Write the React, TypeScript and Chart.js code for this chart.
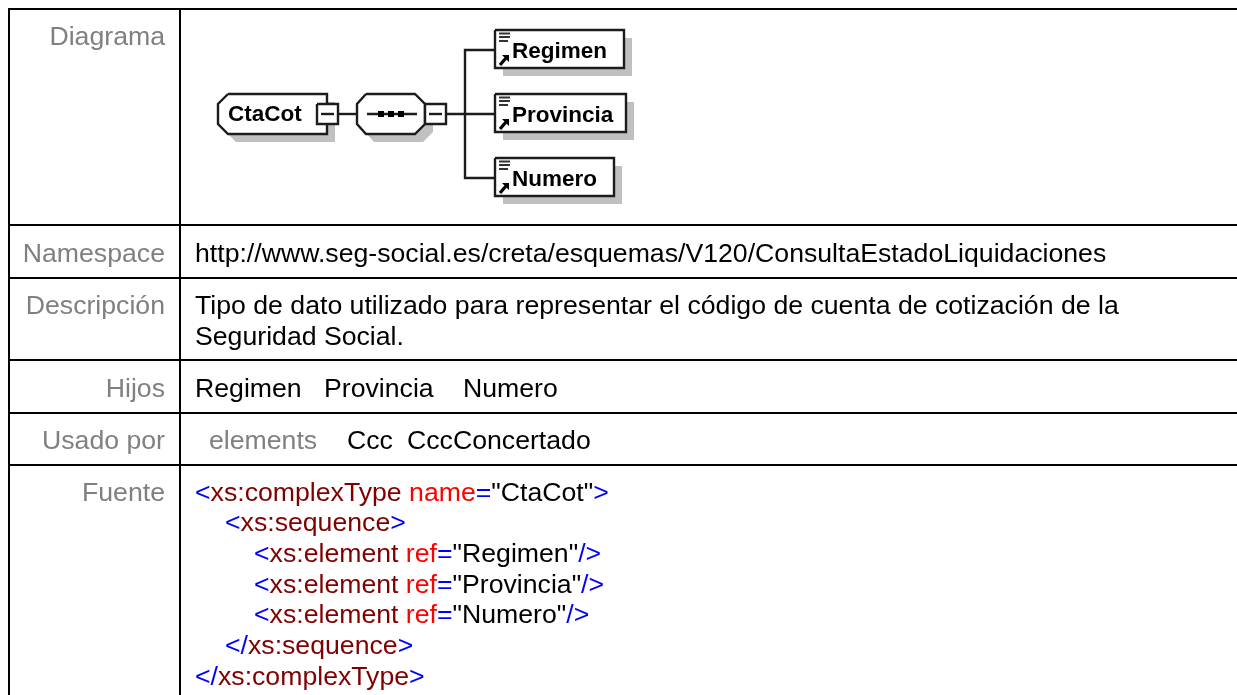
import React, { useEffect, useRef } from "react";
import { Chart, registerables } from "chart.js";

Chart.register(...registerables);

// ---- content -------------------------------------------------------------
const rowLabels = ["Diagrama", "Namespace", "Descripción", "Hijos", "Usado por", "Fuente"];
const namespaceText = "http://www.seg-social.es/creta/esquemas/V120/ConsultaEstadoLiquidaciones";
const descriptionLines = [
  "Tipo de dato utilizado para representar el código de cuenta de cotización de la",
  "Seguridad Social.",
];
const childNames = ["Regimen", "Provincia", "Numero"];
const usedByHeading = "elements";
const usedByNames = ["Ccc", "CccConcertado"];
const rootName = "CtaCot";

const B = "#0000ff", M = "#800000", R = "#ff0000", K = "#000000";
const sourceLines: [string, string][][] = [
  [["<", B], ["xs:complexType", M], [" name", R], ["=", B], ['"CtaCot"', K], [">", B]],
  [["<", B], ["xs:sequence", M], [">", B]],
  [["<", B], ["xs:element", M], [" ref", R], ["=", B], ['"Regimen"', K], ["/>", B]],
  [["<", B], ["xs:element", M], [" ref", R], ["=", B], ['"Provincia"', K], ["/>", B]],
  [["<", B], ["xs:element", M], [" ref", R], ["=", B], ['"Numero"', K], ["/>", B]],
  [["</", B], ["xs:sequence", M], [">", B]],
  [["</", B], ["xs:complexType", M], [">", B]],
];

// ---- layout --------------------------------------------------------------
const W = 1237, H = 695;
const labelRight = 165, valueLeft = 195;
const ruleYs = [9, 225, 278, 360, 413, 465];
const ruleXs = [9, 180];
const labelBaselines = [45, 262, 314, 397, 449, 501];
const sourceIndents = [195, 225, 254, 254, 254, 225, 195];
const sourceBaselines = [501, 531, 562, 593, 623, 654, 685];
const childLefts = [195, 324, 463];
const usedByLefts = [347, 407];
const boxLeft = 495;
const boxRights = [624, 626, 614];
const boxTops = [30, 94, 158];
const boxHeight = 38;
const shadow = 8;
const ruleDatasetCount = ruleYs.length + ruleXs.length;

const ink = "#1c1c1c";
const grey = "#c0c0c0";

const line = (pts: number[][], width = 2.4, color = ink) => ({
  data: pts.map(([x, y]) => ({ x, y })),
  showLine: true, pointRadius: 0, borderColor: color, borderWidth: width,
  borderJoinStyle: "miter" as const, borderCapStyle: "butt" as const, fill: false, tension: 0,
});
const shape = (pts: number[][], bg: string, width = 2.4, color = ink) => ({
  ...line([...pts, pts[0]], width, color), fill: "shape", backgroundColor: bg,
});
const rect = (x0: number, y0: number, x1: number, y1: number) => [[x0, y0], [x1, y0], [x1, y1], [x0, y1]];
const shift = (pts: number[][], d: number) => pts.map(([x, y]) => [x + d, y + d]);

const rootPoly = [[228, 94], [327, 94], [327, 134], [228, 134], [218, 124], [218, 104]];
const seqPoly = [[366, 94], [415, 94], [425, 104], [425, 124], [415, 134], [366, 134], [357, 124], [357, 104]];

function buildDatasets() {
  const ds: any[] = [];
  // table rules
  ruleYs.forEach((y) => ds.push(line([[8, y], [W, y]], 2, "#000")));
  ruleXs.forEach((x) => ds.push(line([[x, 8], [x, H]], 2, "#000")));
  // shadows
  ds.push(shape(shift(rootPoly, 8), grey, 0, grey));
  ds.push(shape(shift(seqPoly, 8), grey, 0, grey));
  boxRights.forEach((r, i) => ds.push(shape(shift(rect(boxLeft, boxTops[i], r, boxTops[i] + boxHeight), shadow), grey, 0, grey)));
  // connectors
  ds.push(line([[338, 114], [357, 114]]));
  ds.push(line([[446, 114], [495, 114]]));
  ds.push(line([[495, 50], [465, 50], [465, 178], [495, 178]]));
  // nodes
  ds.push(shape(rootPoly, "#ffffff"));
  ds.push(shape(seqPoly, "#ffffff"));
  ds.push(line([[367, 114], [417, 114]]));
  [381, 391, 401].forEach((x) => ds.push(shape(rect(x - 3, 111, x + 3, 117), "#000", 0, "#000")));
  ds.push(shape(rect(317, 104, 338, 124), "#ffffff"));
  ds.push(line([[321, 114], [334, 114]]));
  ds.push(shape(rect(425, 104, 446, 124), "#ffffff"));
  ds.push(line([[429, 114], [442, 114]]));
  boxRights.forEach((r, i) => {
    const t = boxTops[i];
    ds.push(shape(rect(boxLeft, t, r, t + boxHeight), "#ffffff"));
    // annotation stripes
    ds.push(line([[499, t + 3.5], [510, t + 3.5]], 2, "#333"));
    ds.push(line([[499, t + 7], [510, t + 7]], 2, "#333"));
    ds.push(line([[499, t + 11], [508, t + 11]], 2, "#333"));
    // reference arrow
    ds.push(line([[500, t + 35], [506, t + 28]], 3.2, "#000"));
    ds.push(shape([[502, t + 25], [509, t + 25], [509, t + 32]], "#000", 0, "#000"));
  });
  const n = ds.length;
  ds.forEach((d, i) => (d.order = n - i));
  return ds;
}

const softPlugin = {
  id: "softDiagram",
  beforeDatasetDraw(chart: any, args: any) {
    if (args.index >= ruleDatasetCount) chart.ctx.filter = "blur(0.5px)";
  },
  afterDatasetDraw(chart: any) {
    chart.ctx.filter = "none";
  },
};

const textPlugin = {
  id: "pageText",
  afterDatasetsDraw(chart: any) {
    const { ctx, scales } = chart;
    const px = (x: number) => scales.x.getPixelForValue(x);
    const py = (y: number) => scales.y.getPixelForValue(y);
    const put = (s: string, x: number, y: number, color: string, align: CanvasTextAlign = "left") => {
      ctx.fillStyle = color;
      ctx.textAlign = align;
      ctx.fillText(s, px(x), py(y));
    };
    ctx.save();
    ctx.textBaseline = "alphabetic";
    ctx.font = '26.67px "Liberation Sans"';
    rowLabels.forEach((s, i) => put(s, labelRight, labelBaselines[i], "#808080", "right"));
    put(namespaceText, valueLeft, 262, "#000");
    descriptionLines.forEach((s, i) => put(s, valueLeft, 314 + i * 31, "#000"));
    childNames.forEach((s, i) => put(s, childLefts[i], 397, "#000"));
    put(usedByHeading, 209, 449, "#808080");
    usedByNames.forEach((s, i) => put(s, usedByLefts[i], 449, "#000"));
    sourceLines.forEach((runs, i) => {
      let x = sourceIndents[i];
      runs.forEach(([s, c]) => {
        put(s, x, sourceBaselines[i], c);
        x += ctx.measureText(s).width;
      });
    });
    ctx.filter = "blur(0.5px)";
    ctx.font = 'bold 22.5px "Liberation Sans"';
    put(rootName, 228, 121, "#000");
    childNames.forEach((s, i) => put(s, 512, boxTops[i] + 27.5, "#000"));
    ctx.filter = "none";
    ctx.restore();
  },
};

export default function App() {
  const ref = useRef<HTMLCanvasElement>(null);
  useEffect(() => {
    const chart = new Chart(ref.current!, {
      type: "scatter",
      data: { datasets: buildDatasets() },
      options: {
        animation: false,
        responsive: false,
        events: [],
        layout: { padding: 0 },
        plugins: { legend: { display: false }, tooltip: { enabled: false }, title: { display: false } },
        scales: {
          x: { type: "linear", min: 0, max: W, display: false },
          y: { type: "linear", min: 0, max: H, reverse: true, display: false },
        },
      },
      plugins: [softPlugin, textPlugin],
    } as any);
    return () => chart.destroy();
  }, []);
  return (
    <div style={{ position: "absolute", left: 0, top: 0, width: W, height: H, overflow: "hidden", background: "#fff" }}>
      <canvas ref={ref} width={W} height={H} style={{ display: "block" }} />
    </div>
  );
}
